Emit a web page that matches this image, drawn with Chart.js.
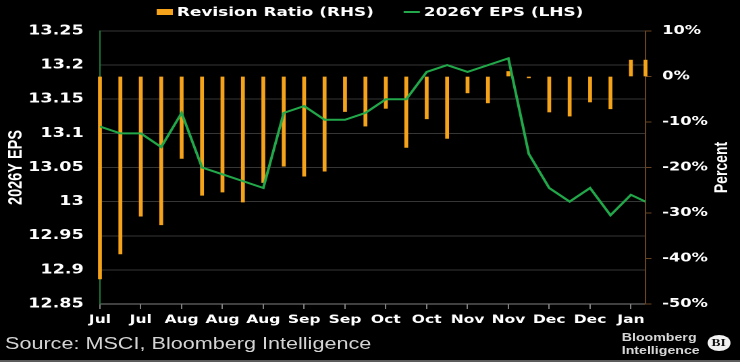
<!DOCTYPE html>
<html>
<head>
<meta charset="utf-8">
<script src="https://cdn.jsdelivr.net/npm/chart.js@4.4.1/dist/chart.umd.min.js"></script>
<style>
  html, body { margin: 0; padding: 0; background: #000; overflow: hidden; }
  /* the reference is a horizontally stretched render, so draw narrow and stretch */
  #wrap { position: relative; width: 548px; height: 362px; background: #000;
          transform: scaleX(1.3504); transform-origin: 0 0; }
  #chart { position: absolute; left: 0; top: 0; display: block; }
  .source { position: absolute; left: 3.7px; top: 335.5px; font: 16px/16px "Liberation Sans", sans-serif;
            color: #d4d4d4; white-space: nowrap; }
  .brand { position: absolute; left: 460.4px; top: 330.6px; font: bold 10.5px/13.5px "Liberation Sans", sans-serif;
           color: #d6d6d6; white-space: nowrap; }
  .bi { position: absolute; left: 523.6px; top: 335px; width: 17px; height: 16px; border-radius: 50%;
        background: #f2f2f2; color: #111; font: bold 10px/16px "Liberation Serif", serif; text-align: center; }
  .rule { position: absolute; left: 0; top: 360px; width: 548px; height: 2px; background: #5c5c5c; }
</style>
</head>
<body>
<div id="wrap">
  <canvas id="chart" width="548" height="362"></canvas>
  <div class="source">Source: MSCI, Bloomberg Intelligence</div>
  <div class="brand">Bloomberg<br>Intelligence</div>
  <div class="bi">BI</div>
  <div class="rule"></div>
</div>
<script>
// weekly observations, last one is a partial week
const dates = [
    '2025-07-04', '2025-07-11', '2025-07-18', '2025-07-25', '2025-08-01', '2025-08-08', '2025-08-15',
    '2025-08-22', '2025-08-29', '2025-09-05', '2025-09-12', '2025-09-19', '2025-09-26', '2025-10-03',
    '2025-10-10', '2025-10-17', '2025-10-24', '2025-10-31', '2025-11-07', '2025-11-14', '2025-11-21',
    '2025-11-28', '2025-12-05', '2025-12-12', '2025-12-19', '2025-12-26', '2026-01-02', '2026-01-07'
];

// Revision Ratio (RHS), percent
const revisionRatio = [
    -44.5, -39.0, -30.7, -32.6, -18.0, -26.1, -25.4,
    -27.6, -23.3, -19.7, -21.9, -20.8, -7.7, -10.9,
    -7.0, -15.6, -9.3, -13.6, -3.6, -5.8, 1.1,
    -0.3, -7.8, -8.7, -5.6, -7.1, 3.6, 3.6
];

// 2026Y EPS (LHS)
const eps2026 = [
    13.11, 13.10, 13.10, 13.08, 13.13, 13.05, 13.04,
    13.03, 13.02, 13.13, 13.14, 13.12, 13.12, 13.13,
    13.15, 13.15, 13.19, 13.20, 13.19, 13.20, 13.21,
    13.07, 13.02, 13.00, 13.02, 12.98, 13.01, 13.00
];

const tickDates = [
    '2025-07-04', '2025-07-18', '2025-08-01', '2025-08-15', '2025-08-29', '2025-09-12', '2025-09-26',
    '2025-10-10', '2025-10-24', '2025-11-07', '2025-11-21', '2025-12-05', '2025-12-19', '2026-01-02'
];
const tickLabels = ['Jul', 'Jul', 'Aug', 'Aug', 'Aug', 'Sep', 'Sep', 'Oct', 'Oct', 'Nov', 'Nov', 'Dec', 'Dec', 'Jan'];

const DAY = 86400000;
function dayNum(d) {
    return (Date.parse(d) - Date.parse(dates[0])) / DAY;
}

const ORANGE = '#f5a31a';
const GREEN = '#22a84a';

// legend at the top, drawn by hand to get the Bloomberg spacing
const topLegend = {
    id: 'topLegend',
    afterDraw(chart) {
        const ctx = chart.ctx;
        ctx.save();
        ctx.font = 'bold 12.5px "DejaVu Sans"';
        ctx.textBaseline = 'middle';
        const items = chart.data.datasets.map(ds => ({
            ds: ds,
            w: 12 + 3 + ctx.measureText(ds.label).width
        }));
        const gap = 22;
        const total = items.reduce((s, it) => s + it.w, 0) + gap * (items.length - 1);
        let x = chart.width / 2 - total / 2;
        const y = 12;
        items.forEach(it => {
            if (it.ds.type === 'line') {
                ctx.strokeStyle = it.ds.borderColor;
                ctx.lineWidth = 2;
                ctx.beginPath();
                ctx.moveTo(x, y);
                ctx.lineTo(x + 12, y);
                ctx.stroke();
            } else {
                ctx.fillStyle = it.ds.backgroundColor;
                ctx.fillRect(x, y - 3, 12, 6);
            }
            ctx.fillStyle = '#fff';
            ctx.fillText(it.ds.label, x + 15, y + 0.5);
            x += it.w + gap;
        });
        ctx.restore();
    }
};

// right axis title reads bottom to top, chart.js would rotate it the other way
const rightTitle = {
    id: 'rightTitle',
    afterDraw(chart) {
        const ctx = chart.ctx;
        const area = chart.chartArea;
        ctx.save();
        ctx.translate(534.7, (area.top + area.bottom) / 2);
        ctx.rotate(-Math.PI / 2);
        ctx.font = 'bold 14px "Liberation Sans"';
        ctx.fillStyle = '#fff';
        ctx.textAlign = 'center';
        ctx.textBaseline = 'middle';
        ctx.fillText('Percent', 0, 0);
        ctx.restore();
    }
};

const ctx = document.getElementById('chart').getContext('2d');
new Chart(ctx, {
    type: 'bar',
    data: {
        datasets: [{
            type: 'bar',
            label: 'Revision Ratio (RHS)',
            data: dates.map((d, i) => ({ x: dayNum(d), y: revisionRatio[i] })),
            backgroundColor: ORANGE,
            barThickness: 2.2,
            yAxisID: 'y1',
            clip: false,
            order: 1
        }, {
            type: 'line',
            label: '2026Y EPS (LHS)',
            data: dates.map((d, i) => ({ x: dayNum(d), y: eps2026[i] })),
            borderColor: GREEN,
            backgroundColor: GREEN,
            borderWidth: 2,
            pointRadius: 0,
            tension: 0,
            yAxisID: 'y',
            order: 0
        }]
    },
    options: {
        responsive: false,
        animation: false,
        devicePixelRatio: 2,
        layout: { padding: { top: 31, bottom: 32, left: 0, right: 0 } },
        plugins: {
            legend: { display: false },
            tooltip: { enabled: false }
        },
        scales: {
            x: {
                type: 'linear',
                offset: false,
                min: 0,
                max: dayNum(dates[dates.length - 1]),
                afterBuildTicks: scale => {
                    scale.ticks = tickDates.map(d => ({ value: dayNum(d) }));
                },
                afterFit: scale => { scale.height = 26; },
                ticks: {
                    callback: (v, i) => tickLabels[i],
                    autoSkip: false,
                    maxRotation: 0,
                    padding: 4,
                    color: '#fff',
                    font: { family: 'DejaVu Sans', weight: 'bold', size: 11.5 }
                },
                grid: { offset: false, drawOnChartArea: false, tickLength: 5, color: '#808080' },
                border: { color: '#808080' }
            },
            y: {
                position: 'left',
                min: 12.85,
                max: 13.25,
                afterFit: scale => { scale.width = 74; },
                ticks: {
                    stepSize: 0.05,
                    padding: 12,
                    color: '#fff',
                    font: { family: 'DejaVu Sans', weight: 'bold', size: 13 },
                    callback: v => String(Number(v.toFixed(2)))
                },
                grid: { color: '#363636', drawTicks: false },
                border: { color: '#1f7a3a' },
                title: {
                    display: true,
                    text: '2026Y EPS',
                    color: '#fff',
                    padding: { top: 3.5, bottom: 0 },
                    font: { family: 'Liberation Sans', weight: 'bold', size: 14.5 }
                }
            },
            y1: {
                position: 'right',
                min: -50,
                max: 10,
                afterFit: scale => { scale.width = 70; },
                ticks: {
                    stepSize: 10,
                    padding: 8,
                    color: '#fff',
                    font: { family: 'DejaVu Sans', weight: 'bold', size: 12 },
                    callback: v => v + '%'
                },
                grid: { drawOnChartArea: false, tickLength: 4.4, color: '#6b4423' },
                border: { color: '#6b4423' }
            }
        }
    },
    plugins: [topLegend, rightTitle]
});
</script>
</body>
</html>
